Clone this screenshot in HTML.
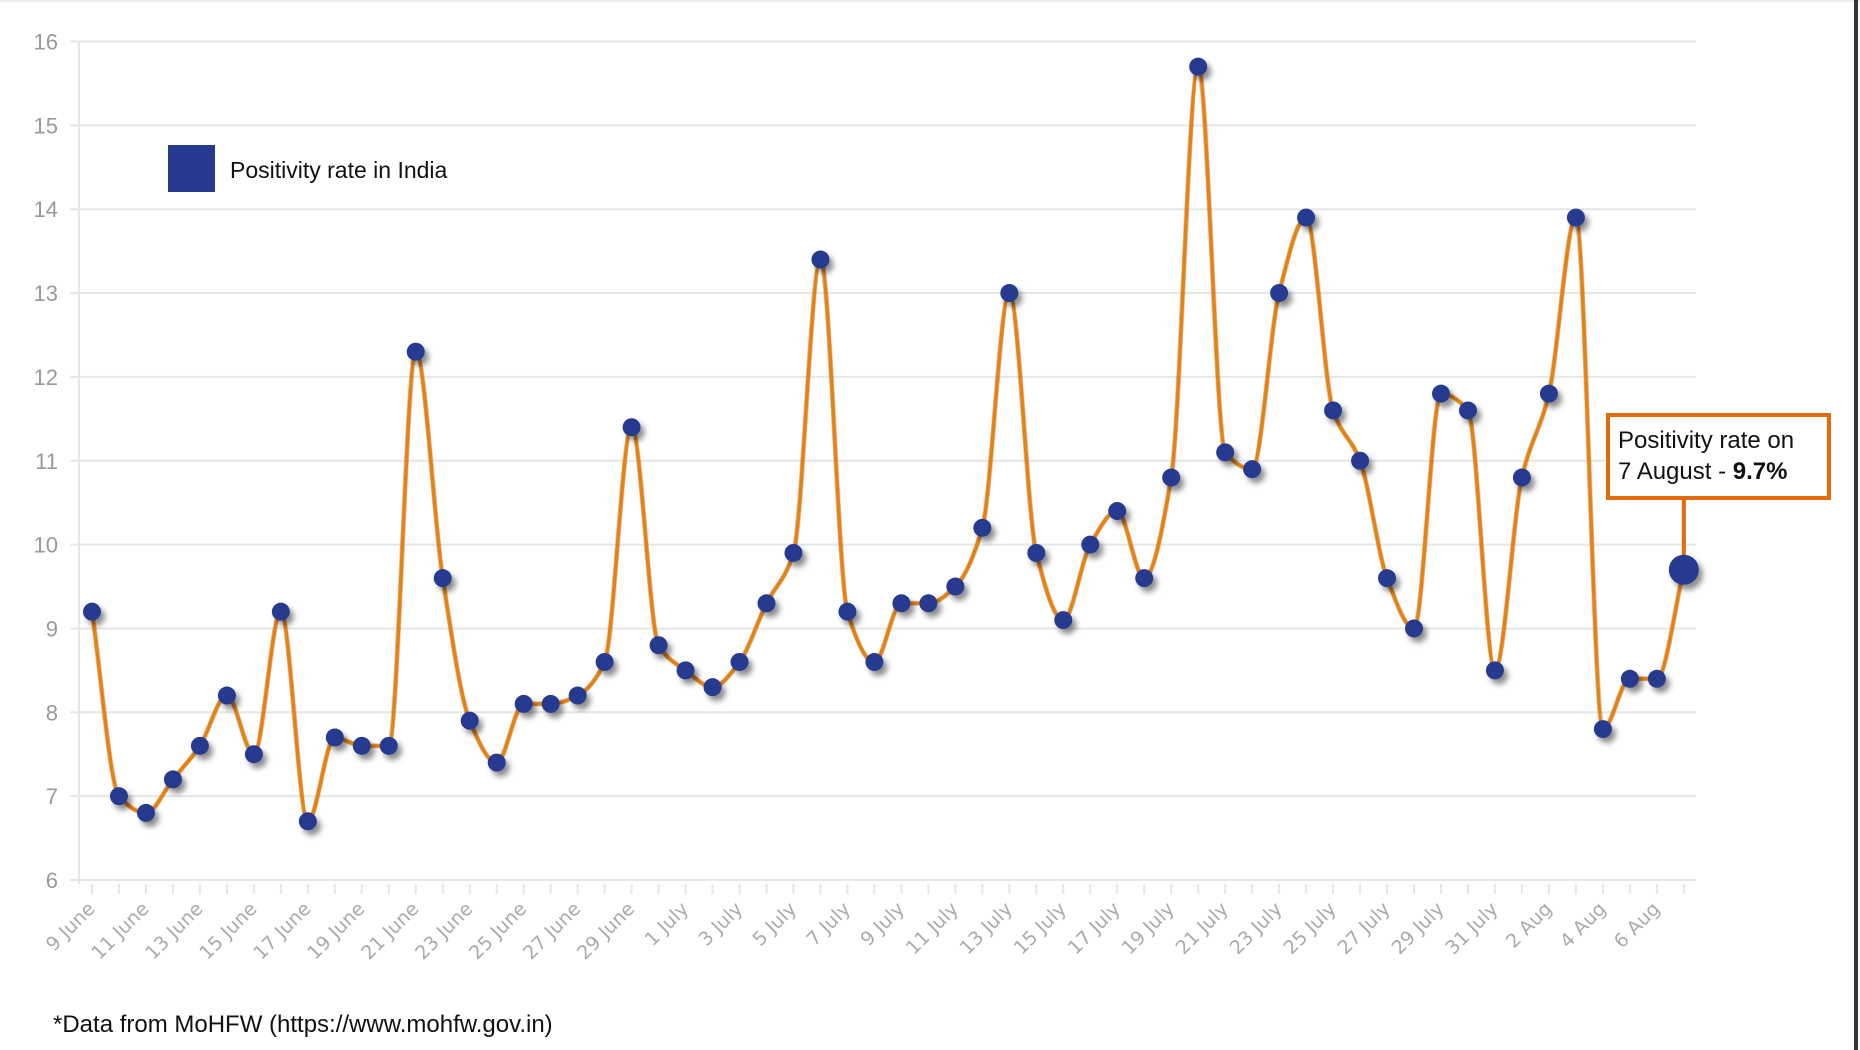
<!DOCTYPE html>
<html><head><meta charset="utf-8"><style>
body{margin:0;background:#fff;width:1860px;height:1050px;overflow:hidden;font-family:"Liberation Sans",sans-serif}
svg{display:block}
</style></head><body>
<svg id="chart" width="1860" height="1050">
<defs>
<filter id="sh" x="-60%" y="-60%" width="220%" height="220%"><feDropShadow dx="4" dy="5" stdDeviation="3" flood-color="#000" flood-opacity="0.45"/></filter>
</defs>
<line x1="0" y1="1" x2="1860" y2="1" stroke="#eee" stroke-width="2"/>
<rect x="1854" y="0" width="4" height="1050" fill="#333"/>
<g id="grid"></g><g id="axes"></g><g id="series"></g>
<rect x="168" y="145" width="47" height="47" fill="#253a8f"/>
<text x="230" y="178" font-size="23" fill="#111">Positivity rate in India</text>
<text x="53" y="1032" font-size="24" fill="#111">*Data from MoHFW (https://www.mohfw.gov.in)</text>
<g id="annot">
<rect x="1608" y="415" width="221" height="83" fill="#fff" stroke="#e36c0a" stroke-width="4"/>
<text x="1618" y="448" font-size="24" fill="#111">Positivity rate on</text>
<text x="1618" y="479" font-size="24" fill="#111">7 August - <tspan font-weight="bold">9.7%</tspan></text>
</g>
</svg>
<script>
const categories=["9 June","10 June","11 June","12 June","13 June","14 June","15 June","16 June","17 June","18 June","19 June","20 June","21 June","22 June","23 June","24 June","25 June","26 June","27 June","28 June","29 June","30 June","1 July","2 July","3 July","4 July","5 July","6 July","7 July","8 July","9 July","10 July","11 July","12 July","13 July","14 July","15 July","16 July","17 July","18 July","19 July","20 July","21 July","22 July","23 July","24 July","25 July","26 July","27 July","28 July","29 July","30 July","31 July","1 Aug","2 Aug","3 Aug","4 Aug","5 Aug","6 Aug","7 Aug"];
const rates=[9.2,7.0,6.8,7.2,7.6,8.2,7.5,9.2,6.7,7.7,7.6,7.6,12.3,9.6,7.9,7.4,8.1,8.1,8.2,8.6,11.4,8.8,8.5,8.3,8.6,9.3,9.9,13.4,9.2,8.6,9.3,9.3,9.5,10.2,13.0,9.9,9.1,10.0,10.4,9.6,10.8,15.7,11.1,10.9,13.0,13.9,11.6,11.0,9.6,9.0,11.8,11.6,8.5,10.8,11.8,13.9,7.8,8.4,8.4,9.7];
const yTicks=[6,7,8,9,10,11,12,13,14,15,16];
const NS="http://www.w3.org/2000/svg";
const X0=92,DX=26.98,Y6=880,PU=83.85;
function xs(i){return X0+i*DX;}
function ys(v){return Y6-(v-6)*PU;}
function mk(tag,attrs,parent){const e=document.createElementNS(NS,tag);for(const k in attrs)e.setAttribute(k,attrs[k]);parent.appendChild(e);return e;}
const grid=document.getElementById('grid'),axes=document.getElementById('axes'),ser=document.getElementById('series');
yTicks.forEach(t=>{
  const l=mk('line',{x1:70,x2:1696,y1:ys(t),y2:ys(t),stroke:'#e6e6e6','stroke-width':2},grid);
  
  
  const tx=mk('text',{x:58,y:ys(t)+8,'font-size':22,fill:'#999','text-anchor':'end'},axes);
  tx.textContent=t;
  
  
});
const ax=mk('line',{x1:79,x2:79,y1:ys(16),y2:ys(6)+4,stroke:'#e6e6e6','stroke-width':2},axes);


categories.forEach((c,i)=>{
  const tk=mk('line',{x1:xs(i),x2:xs(i),y1:ys(6)+4,y2:ys(6)+14,stroke:'#e6e6e6','stroke-width':2},axes);
  
  
  if(i%2===0){
    const x=xs(i)+4,y=ys(6)+30;
    const tx=mk('text',{x:x,y:y,'font-size':19,fill:'#aaa','text-anchor':'end',transform:'rotate(-45 '+x+' '+y+')','font-family':'DejaVu Sans, sans-serif'},axes);
    tx.textContent=c;
    
    
  }
});
const P=rates.map((v,i)=>[xs(i),ys(v)]);
// monotone cubic
const n=P.length,s=[],m=[];
for(let i=0;i<n-1;i++)s.push((P[i+1][1]-P[i][1])/(P[i+1][0]-P[i][0]));
m[0]=s[0];m[n-1]=s[n-2];
for(let i=1;i<n-1;i++){
  if(s[i-1]*s[i]<=0)m[i]=0;
  else m[i]=3*(s[i-1]+s[i])/(2*(1/s[i-1]+1/s[i])*1.5+ (1/s[i-1]+1/s[i])*0) ;
}
for(let i=1;i<n-1;i++){ if(s[i-1]*s[i]>0){ m[i]=2/(1/s[i-1]+1/s[i]); } }
let d='M'+P[0][0]+','+P[0][1];
for(let i=0;i<n-1;i++){
  const h=(P[i+1][0]-P[i][0])/3;
  d+=' C'+(P[i][0]+h)+','+(P[i][1]+m[i]*h)+' '+(P[i+1][0]-h)+','+(P[i+1][1]-m[i+1]*h)+' '+P[i+1][0]+','+P[i+1][1];
}
const sh=mk('path',{d:d,fill:'none',stroke:'#8a5a20','stroke-width':5,'stroke-opacity':0.35},ser);


const ln=mk('path',{d:d,fill:'none',stroke:'#e8820f','stroke-width':3.5},ser);


const last=P.length-1;
const cl=mk('line',{x1:P[last][0],x2:P[last][0],y1:500,y2:P[last][1],stroke:'#e36c0a','stroke-width':4},ser);


P.forEach((p,i)=>{
  const c=mk('circle',{cx:p[0],cy:p[1],r:i===last?15:9,fill:'#253a8f',filter:'url(#sh)'},ser);
  
  
});
</script>
</body></html>
